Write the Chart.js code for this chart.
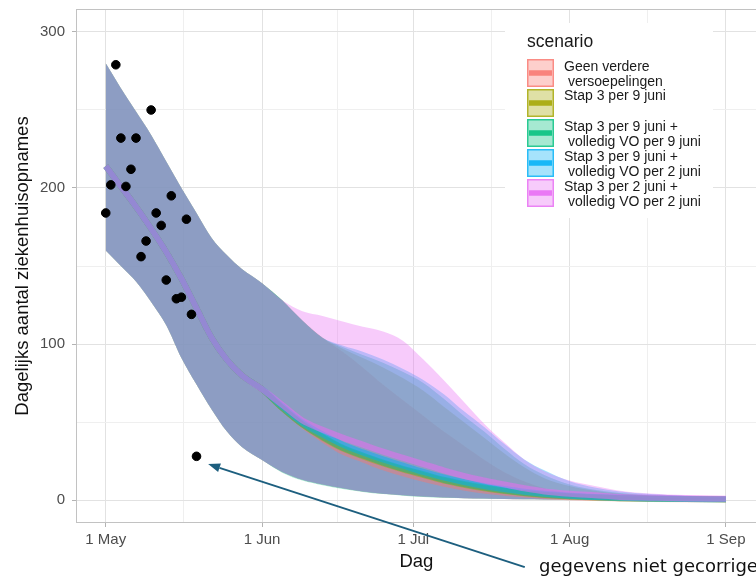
<!DOCTYPE html>
<html><head><meta charset="utf-8">
<script src="https://cdn.jsdelivr.net/npm/chart.js@4.4.1/dist/chart.umd.min.js"></script>
<style>html,body{margin:0;padding:0;overflow:hidden;background:#fff;width:756px;height:576px}canvas{display:block}</style>
</head><body><canvas id="c" width="762" height="576"></canvas>
<script>
// ---- data (days since 1 May) ----
const days = [0,3,6,9,12,15,18,21,24,27,31,35,39,43,47,51,55,59,63,67,71,75,79,83,87,92,97,102,108,115,123];

const redLower   = [160,150,140,127,112,91,74,58,44,34,25.6,18,13,10,7.5,5.5,4,3,2.2,1.6,1.2,0.9,0.7,0.5,0.4,0.3,0.2,0.2,0.1,0.1,0.1];
const redMedian  = [214,201,188,174,159,142,123,104,90,80,71,59,48,39,31,26,21,17,13.5,10.5,8,6,4.6,3.5,2.6,1.8,1.3,1,0.7,0.5,0.4];
const redUpper   = [280,264,249,234,217,200,184,168,157,148,139,128,115,104,95,85,74,64,54,44,35,26,18,12,7.5,4.5,3,2,1.3,1,0.8];

const oliveLower  = [160,150,140,127,112,91,74,58,44,34,25.6,18,13,10,7.5,5.5,4,3,2.2,1.6,1.2,0.9,0.7,0.5,0.4,0.3,0.2,0.2,0.1,0.1,0.1];
const oliveMedian = [214,201,188,174,159,142,123,104,90,80,71,59,48.5,40,33,28,23.5,19.5,16,12.5,9.8,7.5,5.7,4.3,3.2,2.3,1.6,1.1,0.8,0.6,0.4];
const oliveUpper  = [280,264,249,234,217,200,184,168,157,148,139,128,115,104,97,91,85,78,70,60,50,40,30,21,14,9,6,4,2.8,2.2,2];

const greenLower  = [160,150,140,127,112,91,74,58,44,34,25.6,17.5,12.5,9.5,7,5.2,3.8,2.8,2,1.5,1.1,0.8,0.6,0.5,0.4,0.3,0.2,0.2,0.1,0.1,0.1];
const greenMedian = [214,201,188,174,159,142,123,104,90,80,71,59,48.5,40.5,33.5,28.5,24,20,16.5,13,10.3,8,6,4.5,3.4,2.4,1.7,1.2,0.85,0.6,0.45];
const greenUpper  = [280,264,249,234,217,200,184,168,157,148,139,128,115,104,98,93,88,82,75,65,54,44,33,23,16,10,6.5,4.5,3,2.5,2];

const blueLower  = [160,150,140,127,112,91,74,58,44,34,25.6,18,13,10,7.5,5.5,4,3,2.2,1.6,1.2,0.9,0.7,0.5,0.4,0.3,0.2,0.2,0.1,0.1,0.1];
const blueMedian = [214,201,188,174,159,142,123,104,90,80,71,60,49.5,42,35.5,30.5,26,22,18,14.5,11.5,9,7,5.3,4,2.8,2,1.4,1,0.7,0.5];
const blueUpper  = [280,264,249,234,217,200,184,168,157,148,139,128,115,104,99,95,90,84,77,68,57,47,36,26,19,12,8,5.5,3.8,2.8,2.3];

const pinkLower  = [160,150,140,127,112,91,74,58,44,34,25.6,18,13,10,7.5,5.5,4,3,2.2,1.6,1.2,0.9,0.7,0.5,0.4,0.3,0.2,0.2,0.1,0.1,0.1];
const pinkMedian = [214,201,188,174,159,142,123,104,90,80,71,61,51,45,40,35.5,31,27,23,19,15.5,12.5,10,7.5,5.5,4,3,2,1.5,1,0.8];
const pinkUpper  = [280,264,249,234,217,200,184,168,157,148,139,128,121,118,114.5,111,108,102,90,77,63,49,37,26,18.5,12.5,9,6,4.2,3.2,2.6];

const obsDays   = [0,1,2,3,4,5,6,7,8,9,10,11,12,13,14,15,16,17,18];
const obsValues = [184,202,279,232,201,212,232,156,166,250,184,176,141,195,129,130,180,119,28];

const scenarioLabels = [
  ["Geen verdere", " versoepelingen"],
  ["Stap 3 per 9 juni"],
  ["Stap 3 per 9 juni +", " volledig VO per 9 juni"],
  ["Stap 3 per 9 juni +", " volledig VO per 2 juni"],
  ["Stap 3 per 2 juni +", " volledig VO per 2 juni"]
];
const xTickDays   = [0,31,61,92,123];
const xTickLabels = ["1 May","1 Jun","1 Jul","1 Aug","1 Sep"];
const xMinorDays  = [15.5,46,76.5,107.5];
const yTickValues = [0,100,200,300];
const yMinorValues = [50,150,250];
const annotationText = "gegevens niet gecorrigeerd";

// ---- styles ----
const colors = [[248,118,109],[163,165,0],[0,191,125],[0,176,246],[231,107,243]];
const lineAlpha = [0.45,0.45,0.45,0.5,0.55];
const rgba = (c,a)=>`rgba(${c[0]},${c[1]},${c[2]},${a})`;
const series = [
  [redLower, redMedian, redUpper],
  [oliveLower, oliveMedian, oliveUpper],
  [greenLower, greenMedian, greenUpper],
  [blueLower, blueMedian, blueUpper],
  [pinkLower, pinkMedian, pinkUpper]
];
const pts = arr => arr.map((v,i)=>({x:days[i], y:v}));

const datasets = [];
series.forEach((s,k)=>{
  datasets.push({label:'upper'+k, data:pts(s[2]), fill:'+1', backgroundColor:rgba(colors[k],0.35),
    borderWidth:0, pointRadius:0, cubicInterpolationMode:'monotone', order:100-2*k});
  datasets.push({label:'lower'+k, data:pts(s[0]), fill:false, borderWidth:0, borderColor:'rgba(0,0,0,0)',
    pointRadius:0, cubicInterpolationMode:'monotone', order:99-2*k});
});
series.forEach((s,k)=>{
  datasets.push({label:'median'+k, data:pts(s[1]), fill:false, borderColor:rgba(colors[k],lineAlpha[k]),
    borderWidth:6, pointRadius:0, cubicInterpolationMode:'monotone', borderCapStyle:'butt', order:20-k});
});
datasets.push({type:'scatter', label:'obs', data:obsDays.map((d,i)=>({x:d,y:obsValues[i]})),
  backgroundColor:'#000', borderColor:'#000', pointRadius:4.3, showLine:false, order:0});

const panelBorder = {id:'panelBorder', afterDatasetsDraw(chart){
  const {ctx, chartArea:a} = chart; ctx.save(); ctx.strokeStyle='#c2c2c2'; ctx.lineWidth=1;
  ctx.strokeRect(Math.round(a.left)+0.5, Math.round(a.top)+0.5, Math.round(a.right-a.left)-1, Math.round(a.bottom-a.top)-1);
  ctx.restore();
}};

const ggLegend = {id:'ggLegend', afterDraw(chart){
  const ctx = chart.ctx; ctx.save();
  ctx.fillStyle='#fff'; ctx.fillRect(505,23,208,195);
  ctx.fillStyle='#1a1a1a'; ctx.font="17.5px 'Liberation Sans', Arial, sans-serif"; ctx.textBaseline='middle'; ctx.textAlign='left';
  ctx.fillText('scenario', 527, 42);
  const keyTops=[59,89,119,149,179];
  const labelY=[[66.7,81.7],[96],[127.3,141.7],[156.7,171.7],[186.7,201.7]];
  ctx.font="14px 'Liberation Sans', Arial, sans-serif";
  colors.forEach((c,k)=>{
    const y=keyTops[k];
    ctx.fillStyle=rgba(c,0.35); ctx.fillRect(527,y,27,28);
    ctx.strokeStyle=rgba(c,0.75); ctx.lineWidth=1.5; ctx.strokeRect(527.75,y+0.75,25.5,26.5);
    ctx.strokeStyle=rgba(c,0.85); ctx.lineWidth=5.5; ctx.beginPath(); ctx.moveTo(529,y+14); ctx.lineTo(552,y+14); ctx.stroke();
    ctx.fillStyle='#1a1a1a';
    scenarioLabels[k].forEach((t,j)=>{ ctx.fillText(t, 564, labelY[k][j]); });
  });
  ctx.restore();
}};

const annot = {id:'annot', afterDraw(chart){
  const ctx=chart.ctx, xs=chart.scales.x, ys=chart.scales.y;
  const hx=xs.getPixelForValue(20.3), hy=ys.getPixelForValue(23);
  const tx=xs.getPixelForValue(83.1), ty=ys.getPixelForValue(-43);
  ctx.save(); ctx.strokeStyle='#1d5f7f'; ctx.fillStyle='#1d5f7f'; ctx.lineWidth=2;
  const ang=Math.atan2(hy-ty,hx-tx), L=12, W=4.5;
  const bx=hx-L*Math.cos(ang), by=hy-L*Math.sin(ang);
  ctx.beginPath(); ctx.moveTo(tx,ty); ctx.lineTo(bx,by); ctx.stroke();
  ctx.beginPath(); ctx.moveTo(hx,hy);
  ctx.lineTo(bx+W*Math.sin(ang), by-W*Math.cos(ang)); ctx.lineTo(bx-W*Math.sin(ang), by+W*Math.cos(ang)); ctx.closePath(); ctx.fill();
  ctx.fillStyle='#111'; ctx.font="18px 'DejaVu Sans', Verdana, sans-serif"; ctx.textBaseline='middle'; ctx.textAlign='left';
  ctx.fillText(annotationText, 539, 567);
  ctx.restore();
}};

Chart.defaults.font.family = "'Liberation Sans', Arial, sans-serif";
new Chart(document.getElementById('c'), {
  type:'line',
  data:{datasets},
  options:{
    responsive:false, animation:false, devicePixelRatio:1,
    layout:{padding:{left:0,right:0,top:9,bottom:0}},
    plugins:{legend:{display:false}, tooltip:{enabled:false}},
    scales:{
      x:{type:'linear', min:-5.9, max:129.1,
        afterBuildTicks:s=>{ s.ticks=[...xTickDays, ...xMinorDays].sort((a,b)=>a-b).map(v=>({value:v})); },
        afterFit:s=>{ s.height=53; s.paddingLeft=0; s.paddingRight=0; },
        ticks:{autoSkip:false, maxRotation:0, color:'#4d4d4d', font:{size:15}, padding:4,
          callback:v=>{ const i=xTickDays.indexOf(v); return i>=0?xTickLabels[i]:''; }},
        grid:{color:c=>xTickDays.includes(c.tick.value)?'#e2e2e2':'#efefef', lineWidth:1, tickLength:4,
          tickColor:c=>xTickDays.includes(c.tick.value)?'#b3b3b3':'rgba(0,0,0,0)'},
        border:{display:false},
        title:{display:true, text:'Dag', color:'#111', font:{size:18.5}, padding:{top:0,bottom:3}}
      },
      y:{type:'linear', min:-14.74, max:314.74,
        afterBuildTicks:s=>{ s.ticks=[...yTickValues, ...yMinorValues].sort((a,b)=>a-b).map(v=>({value:v})); },
        afterFit:s=>{ s.width=76; s.paddingTop=0; s.paddingBottom=0; },
        ticks:{color:'#4d4d4d', font:{size:15}, padding:7,
          callback:v=>yTickValues.includes(v)?String(v):''},
        grid:{color:c=>yTickValues.includes(c.tick.value)?'#e2e2e2':'#efefef', lineWidth:1, tickLength:4,
          tickColor:c=>yTickValues.includes(c.tick.value)?'#b3b3b3':'rgba(0,0,0,0)'},
        border:{display:false},
        title:{display:true, text:'Dagelijks aantal ziekenhuisopnames', color:'#111', font:{size:18.5}, padding:{top:12,bottom:0}}
      }
    }
  },
  plugins:[panelBorder, ggLegend, annot]
});
</script></body></html>
